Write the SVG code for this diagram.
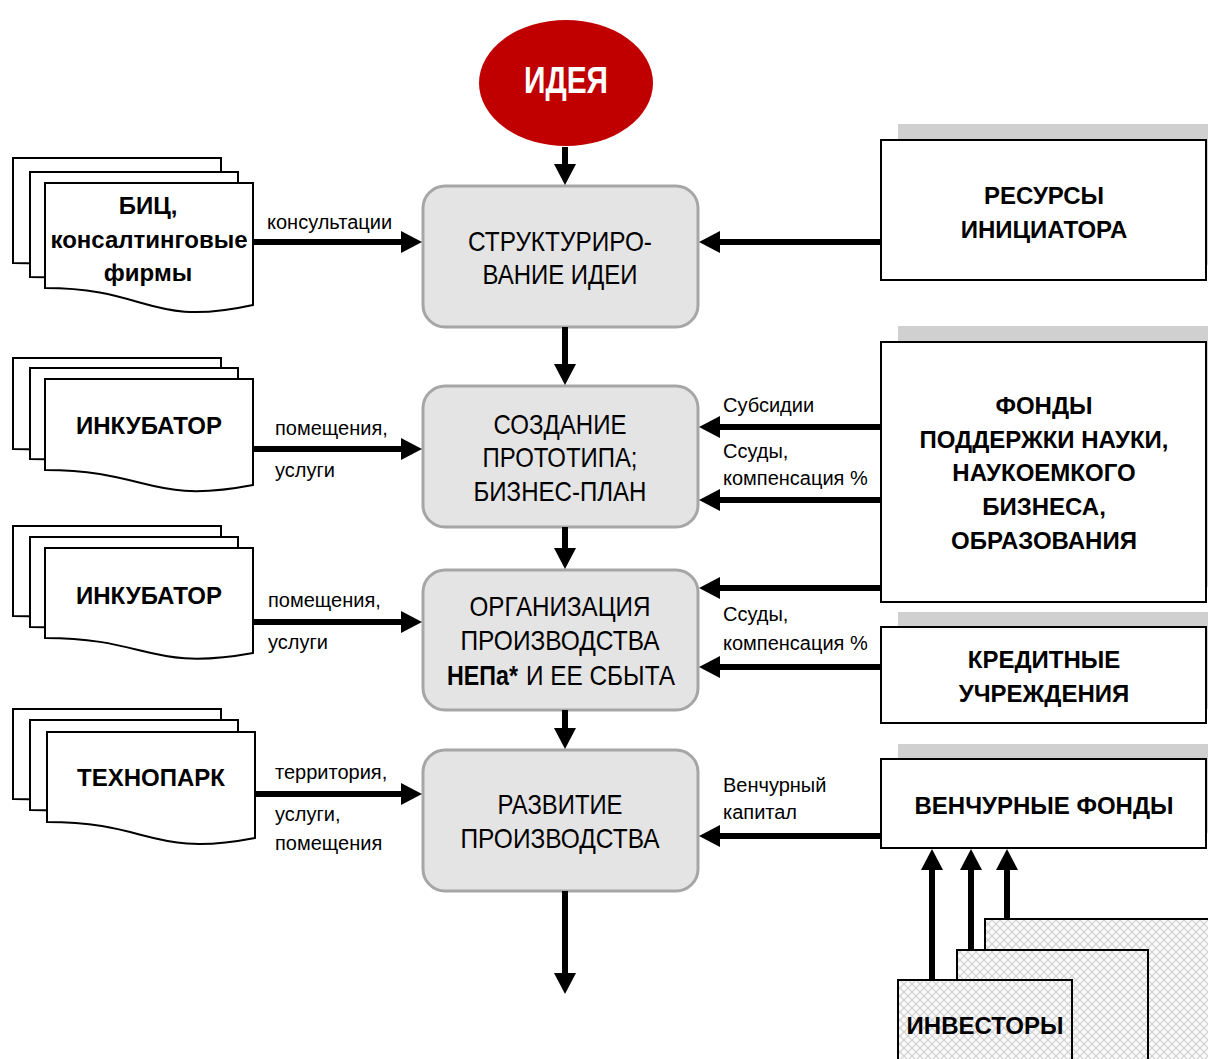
<svg xmlns="http://www.w3.org/2000/svg" width="1208" height="1059" viewBox="0 0 1208 1059">
<style>
.doc{fill:#fff;stroke:#000;stroke-width:2}
.step{fill:#e4e4e4;stroke:#a6a6a6;stroke-width:3}
.box{fill:#fff;stroke:#000;stroke-width:2}
.shadow{fill:#d0d0d0}
.inv{fill:url(#hatch);stroke:#000;stroke-width:2}
.st{font-family:"Liberation Sans Narrow","Liberation Sans",Arial,sans-serif;font-size:28px;fill:#000;text-anchor:middle}
.sts{font-family:"Liberation Sans Narrow","Liberation Sans",Arial,sans-serif;font-size:28px;fill:#000}
.bt{font-family:"Liberation Sans",Arial,sans-serif;font-size:24px;font-weight:bold;fill:#000;text-anchor:middle}
.lb{font-family:"Liberation Sans",Arial,sans-serif;font-size:20px;fill:#000}
.con{stroke:#000;stroke-width:6;fill:none}
</style>
<defs>
<marker id="ah" markerUnits="userSpaceOnUse" markerWidth="21" markerHeight="22" viewBox="0 0 21 22" refX="1" refY="11" orient="auto">
<path d="M0,0 L21,11 L0,22 Z" fill="#000"/>
</marker>
<pattern id="hatch" patternUnits="userSpaceOnUse" width="8" height="8">
<rect width="8" height="8" fill="#fafafa"/>
<path d="M0,0 L8,8 M8,0 L0,8" stroke="#d0d0d0" stroke-width="1.2"/>
</pattern>
</defs>
<rect width="1208" height="1059" fill="#fff"/>

<g id="idea">
<ellipse cx="566" cy="83" rx="87" ry="63" fill="#c00000"/>
<text x="566" y="93" font-family="'Liberation Sans Narrow','Liberation Sans',Arial,sans-serif" font-size="37" font-weight="bold" fill="#fff" text-anchor="middle" textLength="84" lengthAdjust="spacingAndGlyphs">ИДЕЯ</text>
</g>

<g id="step1">
<rect class="step" x="423" y="186" width="275" height="141" rx="22"/>
<text class="st" x="560" y="251" textLength="184" lengthAdjust="spacingAndGlyphs">СТРУКТУРИРО-</text>
<text class="st" x="560" y="284" textLength="155" lengthAdjust="spacingAndGlyphs">ВАНИЕ ИДЕИ</text>
</g>
<g id="step2">
<rect class="step" x="423" y="386" width="275" height="141" rx="22"/>
<text class="st" x="560" y="434" textLength="133" lengthAdjust="spacingAndGlyphs">СОЗДАНИЕ</text>
<text class="st" x="560" y="467" textLength="155" lengthAdjust="spacingAndGlyphs">ПРОТОТИПА;</text>
<text class="st" x="560" y="501" textLength="173" lengthAdjust="spacingAndGlyphs">БИЗНЕС-ПЛАН</text>
</g>
<g id="step3">
<rect class="step" x="423" y="570" width="275" height="140" rx="22"/>
<text class="st" x="560" y="616" textLength="181" lengthAdjust="spacingAndGlyphs">ОРГАНИЗАЦИЯ</text>
<text class="st" x="560" y="650" textLength="199" lengthAdjust="spacingAndGlyphs">ПРОИЗВОДСТВА</text>
<text class="sts" x="447" y="685" font-weight="bold" textLength="71" lengthAdjust="spacingAndGlyphs">НЕПа*</text>
<text class="sts" x="526" y="685" textLength="149" lengthAdjust="spacingAndGlyphs">И ЕЕ СБЫТА</text>
</g>
<g id="step4">
<rect class="step" x="423" y="750" width="275" height="141" rx="22"/>
<text class="st" x="560" y="814" textLength="125" lengthAdjust="spacingAndGlyphs">РАЗВИТИЕ</text>
<text class="st" x="560" y="848" textLength="199" lengthAdjust="spacingAndGlyphs">ПРОИЗВОДСТВА</text>
</g>

<g id="bic">
<path class="doc" d="M13,158 H221 V280 C117,303 117,263 13,263 Z"/>
<path class="doc" d="M30,172 H238 V294 C134,317 134,277 30,277 Z"/>
<path class="doc" d="M45,183 H253 V305 C149,328 149,288 45,288 Z"/>
<text class="bt" x="148" y="214">БИЦ,</text>
<text class="bt" x="149" y="248">консалтинговые</text>
<text class="bt" x="148" y="281">фирмы</text>
</g>
<g id="incubator1">
<path class="doc" d="M13,358 H221 V464 C117,484 117,449 13,449 Z"/>
<path class="doc" d="M30,368 H238 V474 C134,494 134,459 30,459 Z"/>
<path class="doc" d="M45,379 H253 V485 C149,505 149,470 45,470 Z"/>
<text class="bt" x="149" y="434">ИНКУБАТОР</text>
</g>
<g id="incubator2">
<path class="doc" d="M13,526 H221 V631 C117,650 117,616 13,616 Z"/>
<path class="doc" d="M30,537 H238 V642 C134,661 134,627 30,627 Z"/>
<path class="doc" d="M45,548 H253 V653 C149,672 149,638 45,638 Z"/>
<text class="bt" x="149" y="604">ИНКУБАТОР</text>
</g>
<g id="technopark">
<path class="doc" d="M13,709 H221 V814 C117,834 117,799 13,799 Z"/>
<path class="doc" d="M30,720 H238 V825 C134,845 134,810 30,810 Z"/>
<path class="doc" d="M47,732 H255 V838 C151,858 151,822 47,822 Z"/>
<text class="bt" x="151" y="786">ТЕХНОПАРК</text>
</g>

<g id="resources">
<rect class="shadow" x="898" y="124" width="325" height="141"/>
<rect class="box" x="881" y="140" width="325" height="140"/>
<text class="bt" x="1044" y="204">РЕСУРСЫ</text>
<text class="bt" x="1044" y="238">ИНИЦИАТОРА</text>
</g>
<g id="funds">
<rect class="shadow" x="898" y="326" width="325" height="261"/>
<rect class="box" x="881" y="342" width="325" height="260"/>
<text class="bt" x="1044" y="414">ФОНДЫ</text>
<text class="bt" x="1044" y="448">ПОДДЕРЖКИ НАУКИ,</text>
<text class="bt" x="1044" y="481">НАУКОЕМКОГО</text>
<text class="bt" x="1044" y="515">БИЗНЕСА,</text>
<text class="bt" x="1044" y="549">ОБРАЗОВАНИЯ</text>
</g>
<g id="credit">
<rect class="shadow" x="898" y="612" width="325" height="97"/>
<rect class="box" x="881" y="627" width="325" height="96"/>
<text class="bt" x="1044" y="668">КРЕДИТНЫЕ</text>
<text class="bt" x="1044" y="702">УЧРЕЖДЕНИЯ</text>
</g>
<g id="venture">
<rect class="shadow" x="898" y="744" width="325" height="89"/>
<rect class="box" x="881" y="759" width="325" height="89"/>
<text class="bt" x="1044" y="814">ВЕНЧУРНЫЕ ФОНДЫ</text>
</g>
<g id="investors">
<rect class="inv" x="985" y="919" width="240" height="160"/>
<rect class="inv" x="957" y="950" width="191" height="130"/>
<rect class="inv" x="898" y="980" width="174" height="100"/>
<text class="bt" x="985" y="1034">ИНВЕСТОРЫ</text>
</g>

<g id="connectors">
<line class="con" x1="565" y1="147" x2="565" y2="165" marker-end="url(#ah)"/>
<line class="con" x1="565" y1="327" x2="565" y2="365" marker-end="url(#ah)"/>
<line class="con" x1="565" y1="527" x2="565" y2="549" marker-end="url(#ah)"/>
<line class="con" x1="565" y1="710" x2="565" y2="729" marker-end="url(#ah)"/>
<line class="con" x1="565" y1="891" x2="565" y2="974" marker-end="url(#ah)"/>

<line class="con" x1="253" y1="242" x2="402" y2="242" marker-end="url(#ah)"/>
<line class="con" x1="253" y1="449" x2="402" y2="449" marker-end="url(#ah)"/>
<line class="con" x1="253" y1="622" x2="402" y2="622" marker-end="url(#ah)"/>
<line class="con" x1="255" y1="794" x2="402" y2="794" marker-end="url(#ah)"/>

<line class="con" x1="881" y1="242" x2="719" y2="242" marker-end="url(#ah)"/>
<line class="con" x1="881" y1="427" x2="719" y2="427" marker-end="url(#ah)"/>
<line class="con" x1="881" y1="500" x2="719" y2="500" marker-end="url(#ah)"/>
<line class="con" x1="881" y1="588" x2="719" y2="588" marker-end="url(#ah)"/>
<line class="con" x1="881" y1="667" x2="719" y2="667" marker-end="url(#ah)"/>
<line class="con" x1="881" y1="836" x2="719" y2="836" marker-end="url(#ah)"/>

<line class="con" x1="932" y1="980" x2="932" y2="869" marker-end="url(#ah)"/>
<line class="con" x1="971" y1="950" x2="971" y2="869" marker-end="url(#ah)"/>
<line class="con" x1="1007" y1="919" x2="1007" y2="869" marker-end="url(#ah)"/>

<text class="lb" x="267" y="229">консультации</text>
<text class="lb" x="275" y="435">помещения,</text>
<text class="lb" x="275" y="477">услуги</text>
<text class="lb" x="268" y="607">помещения,</text>
<text class="lb" x="268" y="649">услуги</text>
<text class="lb" x="275" y="779">территория,</text>
<text class="lb" x="275" y="821">услуги,</text>
<text class="lb" x="275" y="850">помещения</text>

<text class="lb" x="723" y="412">Субсидии</text>
<text class="lb" x="723" y="458">Ссуды,</text>
<text class="lb" x="723" y="485">компенсация %</text>
<text class="lb" x="723" y="621">Ссуды,</text>
<text class="lb" x="723" y="650">компенсация %</text>
<text class="lb" x="723" y="792">Венчурный</text>
<text class="lb" x="723" y="819">капитал</text>
</g>
</svg>
